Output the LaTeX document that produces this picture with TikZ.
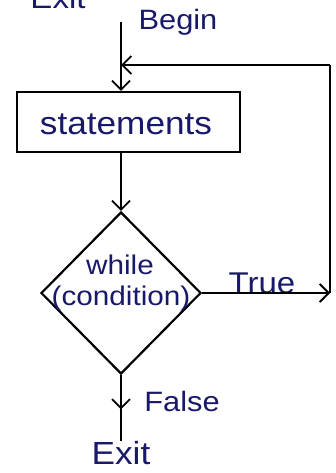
\documentclass[tikz,border=0pt]{standalone}
\usepackage{fontspec}
\newfontfamily\hand[FakeStretch=1.1]{Liberation Sans}
\usetikzlibrary{shapes.geometric,arrows.meta,decorations.markings}
\definecolor{ink}{RGB}{25,25,105}
\tikzset{
  line/.style={draw=black, line width=2.2pt},
  tip/.style={-{Straight Barb[length=9pt,width=18pt,line width=1.8pt]}},
  lbl/.style={text=ink, font=\hand\fontsize{27}{29}\selectfont, inner sep=0pt},
  stepbox/.style={line, rectangle, minimum width=223pt, minimum height=60pt, inner sep=0pt},
  decision/.style={line, diamond, minimum width=160pt, minimum height=162pt, inner sep=0pt, aspect=1},
  midtip/.style={decoration={markings, mark=at position 0.52 with {\arrow{Straight Barb[length=9pt,width=18pt,line width=1.8pt]}}}, postaction={decorate}}
}
\begin{document}
\begin{tikzpicture}[x=1pt,y=-1pt]
\useasboundingbox[fill=white] (0,0) rectangle (335,473);

% entry point and loop-back junction
\coordinate (start) at (121,22);
\coordinate (join) at (121,65);
\node[lbl, font=\hand\fontsize{28}{30}\selectfont] (begin) at (178,22) {Begin};

% body of the loop
\node[stepbox] (body) at (128.5,122) {};
\node[lbl, font=\hand\fontsize{32}{34}\selectfont] (bodytext) at (126,124) {statements};

% loop test
\node[decision] (test) at (121,293) {};
\node[lbl] (cond1) at (120,265) {while};
\node[lbl] (cond2) at (121,299) {(condition)};

% true branch goes back to the top
\coordinate (tcorner) at (330,293);
\coordinate (rcorner) at (330,65);
\node[lbl, font=\hand\fontsize{30}{32}\selectfont] (truelbl) at (262,283) {True};

% false branch leaves the loop
\node[lbl, font=\hand\fontsize{32}{34}\selectfont, anchor=north] (exit) at (121,441) {Exit};
\node[lbl, font=\hand\fontsize{28}{30}\selectfont] (falselbl) at (182,401) {False};
\node[lbl, font=\hand\fontsize{30}{32}\selectfont, anchor=base] (exittop) at (58,9) {Exit};

% connectors
\draw[line] (start) -- (join);
\draw[line, tip] (join) -- (join |- body.north);
\draw[line, tip] (test.north |- body.south) -- (test.north);
\draw[line, tip] (test.east) -- (tcorner);
\draw[line] (tcorner) -- (rcorner);
\draw[line, tip] (rcorner) -- (join);
\draw[line, midtip] (test.south) -- (exit.north);
\end{tikzpicture}
\end{document}
